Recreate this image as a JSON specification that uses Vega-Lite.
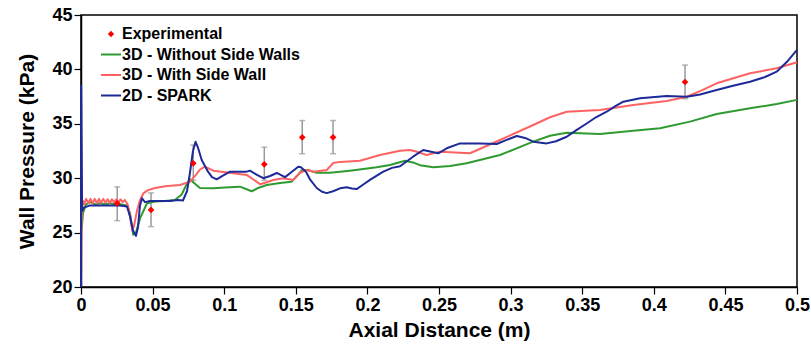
{
  "$schema": "https://vega.github.io/schema/vega-lite/v6.json",
  "width": 716,
  "height": 272,
  "autosize": {"type": "none"},
  "padding": {"left": 81, "top": 15, "right": 14, "bottom": 61},
  "background": "white",
  "config": {
    "view": {"stroke": "black", "strokeWidth": 1.5},
    "axis": {
      "grid": false,
      "domainColor": "black",
      "domainWidth": 1.5,
      "tickColor": "black",
      "tickWidth": 1.2,
      "tickSize": 7,
      "labelFont": "Liberation Sans",
      "labelFontWeight": "bold",
      "labelFontSize": 18,
      "labelColor": "black",
      "labelPadding": 2,
      "titleColor": "black",
      "titleFont": "Liberation Sans",
      "titleFontWeight": "bold"
    }
  },
  "datasets": {
    "curves": [
      {"x": 0.0004, "y": 25.2, "s": "3D - Without Side Walls"},
      {"x": 0.0014, "y": 26.8, "s": "3D - Without Side Walls"},
      {"x": 0.0035, "y": 27.6, "s": "3D - Without Side Walls"},
      {"x": 0.0063, "y": 27.8, "s": "3D - Without Side Walls"},
      {"x": 0.0100, "y": 27.6, "s": "3D - Without Side Walls"},
      {"x": 0.0133, "y": 27.7, "s": "3D - Without Side Walls"},
      {"x": 0.0170, "y": 27.6, "s": "3D - Without Side Walls"},
      {"x": 0.0203, "y": 27.7, "s": "3D - Without Side Walls"},
      {"x": 0.0240, "y": 27.6, "s": "3D - Without Side Walls"},
      {"x": 0.0272, "y": 27.6, "s": "3D - Without Side Walls"},
      {"x": 0.0321, "y": 27.5, "s": "3D - Without Side Walls"},
      {"x": 0.0342, "y": 26.8, "s": "3D - Without Side Walls"},
      {"x": 0.0365, "y": 24.8, "s": "3D - Without Side Walls"},
      {"x": 0.0384, "y": 25.0, "s": "3D - Without Side Walls"},
      {"x": 0.0412, "y": 26.3, "s": "3D - Without Side Walls"},
      {"x": 0.0461, "y": 27.7, "s": "3D - Without Side Walls"},
      {"x": 0.0517, "y": 27.85, "s": "3D - Without Side Walls"},
      {"x": 0.0587, "y": 27.9, "s": "3D - Without Side Walls"},
      {"x": 0.0656, "y": 28.0, "s": "3D - Without Side Walls"},
      {"x": 0.0703, "y": 28.5, "s": "3D - Without Side Walls"},
      {"x": 0.0733, "y": 29.3, "s": "3D - Without Side Walls"},
      {"x": 0.0761, "y": 29.9, "s": "3D - Without Side Walls"},
      {"x": 0.0796, "y": 29.5, "s": "3D - Without Side Walls"},
      {"x": 0.0831, "y": 29.1, "s": "3D - Without Side Walls"},
      {"x": 0.0924, "y": 29.07, "s": "3D - Without Side Walls"},
      {"x": 0.1006, "y": 29.15, "s": "3D - Without Side Walls"},
      {"x": 0.1110, "y": 29.22, "s": "3D - Without Side Walls"},
      {"x": 0.1192, "y": 28.8, "s": "3D - Without Side Walls"},
      {"x": 0.1236, "y": 29.1, "s": "3D - Without Side Walls"},
      {"x": 0.1297, "y": 29.38, "s": "3D - Without Side Walls"},
      {"x": 0.1390, "y": 29.55, "s": "3D - Without Side Walls"},
      {"x": 0.1471, "y": 29.68, "s": "3D - Without Side Walls"},
      {"x": 0.1508, "y": 30.2, "s": "3D - Without Side Walls"},
      {"x": 0.1543, "y": 30.75, "s": "3D - Without Side Walls"},
      {"x": 0.1585, "y": 30.75, "s": "3D - Without Side Walls"},
      {"x": 0.1646, "y": 30.5, "s": "3D - Without Side Walls"},
      {"x": 0.1739, "y": 30.5, "s": "3D - Without Side Walls"},
      {"x": 0.1878, "y": 30.69, "s": "3D - Without Side Walls"},
      {"x": 0.2065, "y": 31.0, "s": "3D - Without Side Walls"},
      {"x": 0.2158, "y": 31.21, "s": "3D - Without Side Walls"},
      {"x": 0.2263, "y": 31.6, "s": "3D - Without Side Walls"},
      {"x": 0.2318, "y": 31.45, "s": "3D - Without Side Walls"},
      {"x": 0.2367, "y": 31.2, "s": "3D - Without Side Walls"},
      {"x": 0.2460, "y": 31.0, "s": "3D - Without Side Walls"},
      {"x": 0.2577, "y": 31.12, "s": "3D - Without Side Walls"},
      {"x": 0.2693, "y": 31.37, "s": "3D - Without Side Walls"},
      {"x": 0.2926, "y": 32.13, "s": "3D - Without Side Walls"},
      {"x": 0.3158, "y": 33.36, "s": "3D - Without Side Walls"},
      {"x": 0.3275, "y": 33.9, "s": "3D - Without Side Walls"},
      {"x": 0.3392, "y": 34.18, "s": "3D - Without Side Walls"},
      {"x": 0.3624, "y": 34.06, "s": "3D - Without Side Walls"},
      {"x": 0.3857, "y": 34.37, "s": "3D - Without Side Walls"},
      {"x": 0.4043, "y": 34.59, "s": "3D - Without Side Walls"},
      {"x": 0.4253, "y": 35.2, "s": "3D - Without Side Walls"},
      {"x": 0.4439, "y": 35.9, "s": "3D - Without Side Walls"},
      {"x": 0.4672, "y": 36.42, "s": "3D - Without Side Walls"},
      {"x": 0.4858, "y": 36.82, "s": "3D - Without Side Walls"},
      {"x": 0.5000, "y": 37.2, "s": "3D - Without Side Walls"},

      {"x": 0.0, "y": 20.0, "s": "3D - With Side Wall"},
      {"x": 0.0005, "y": 27.0, "s": "3D - With Side Wall"},
      {"x": 0.0014, "y": 27.9, "s": "3D - With Side Wall"},
      {"x": 0.0021, "y": 27.6, "s": "3D - With Side Wall"},
      {"x": 0.0036, "y": 28.1, "s": "3D - With Side Wall"},
      {"x": 0.0051, "y": 27.7, "s": "3D - With Side Wall"},
      {"x": 0.0066, "y": 28.1, "s": "3D - With Side Wall"},
      {"x": 0.0081, "y": 27.7, "s": "3D - With Side Wall"},
      {"x": 0.0096, "y": 28.1, "s": "3D - With Side Wall"},
      {"x": 0.0111, "y": 27.7, "s": "3D - With Side Wall"},
      {"x": 0.0126, "y": 28.1, "s": "3D - With Side Wall"},
      {"x": 0.0141, "y": 27.75, "s": "3D - With Side Wall"},
      {"x": 0.0156, "y": 28.1, "s": "3D - With Side Wall"},
      {"x": 0.0171, "y": 27.75, "s": "3D - With Side Wall"},
      {"x": 0.0186, "y": 28.05, "s": "3D - With Side Wall"},
      {"x": 0.0201, "y": 27.75, "s": "3D - With Side Wall"},
      {"x": 0.0216, "y": 28.05, "s": "3D - With Side Wall"},
      {"x": 0.0231, "y": 27.8, "s": "3D - With Side Wall"},
      {"x": 0.0246, "y": 28.05, "s": "3D - With Side Wall"},
      {"x": 0.0261, "y": 27.8, "s": "3D - With Side Wall"},
      {"x": 0.0276, "y": 28.05, "s": "3D - With Side Wall"},
      {"x": 0.0291, "y": 27.8, "s": "3D - With Side Wall"},
      {"x": 0.0306, "y": 28.0, "s": "3D - With Side Wall"},
      {"x": 0.0321, "y": 27.7, "s": "3D - With Side Wall"},
      {"x": 0.0328, "y": 27.5, "s": "3D - With Side Wall"},
      {"x": 0.0342, "y": 26.5, "s": "3D - With Side Wall"},
      {"x": 0.0358, "y": 25.2, "s": "3D - With Side Wall"},
      {"x": 0.0370, "y": 25.6, "s": "3D - With Side Wall"},
      {"x": 0.0391, "y": 27.0, "s": "3D - With Side Wall"},
      {"x": 0.0412, "y": 28.0, "s": "3D - With Side Wall"},
      {"x": 0.0435, "y": 28.6, "s": "3D - With Side Wall"},
      {"x": 0.0468, "y": 28.9, "s": "3D - With Side Wall"},
      {"x": 0.0517, "y": 29.1, "s": "3D - With Side Wall"},
      {"x": 0.0587, "y": 29.25, "s": "3D - With Side Wall"},
      {"x": 0.0691, "y": 29.38, "s": "3D - With Side Wall"},
      {"x": 0.0761, "y": 29.68, "s": "3D - With Side Wall"},
      {"x": 0.0803, "y": 30.3, "s": "3D - With Side Wall"},
      {"x": 0.0831, "y": 30.8, "s": "3D - With Side Wall"},
      {"x": 0.0866, "y": 31.06, "s": "3D - With Side Wall"},
      {"x": 0.0924, "y": 30.69, "s": "3D - With Side Wall"},
      {"x": 0.1064, "y": 30.45, "s": "3D - With Side Wall"},
      {"x": 0.1157, "y": 30.3, "s": "3D - With Side Wall"},
      {"x": 0.1201, "y": 29.9, "s": "3D - With Side Wall"},
      {"x": 0.1250, "y": 29.45, "s": "3D - With Side Wall"},
      {"x": 0.1292, "y": 29.6, "s": "3D - With Side Wall"},
      {"x": 0.1343, "y": 29.84, "s": "3D - With Side Wall"},
      {"x": 0.1413, "y": 29.99, "s": "3D - With Side Wall"},
      {"x": 0.1483, "y": 29.84, "s": "3D - With Side Wall"},
      {"x": 0.1529, "y": 30.5, "s": "3D - With Side Wall"},
      {"x": 0.1576, "y": 30.75, "s": "3D - With Side Wall"},
      {"x": 0.1622, "y": 30.6, "s": "3D - With Side Wall"},
      {"x": 0.1716, "y": 30.75, "s": "3D - With Side Wall"},
      {"x": 0.1762, "y": 31.4, "s": "3D - With Side Wall"},
      {"x": 0.1809, "y": 31.5, "s": "3D - With Side Wall"},
      {"x": 0.1948, "y": 31.6, "s": "3D - With Side Wall"},
      {"x": 0.2088, "y": 32.13, "s": "3D - With Side Wall"},
      {"x": 0.2228, "y": 32.53, "s": "3D - With Side Wall"},
      {"x": 0.2297, "y": 32.59, "s": "3D - With Side Wall"},
      {"x": 0.2353, "y": 32.4, "s": "3D - With Side Wall"},
      {"x": 0.2414, "y": 32.13, "s": "3D - With Side Wall"},
      {"x": 0.2507, "y": 32.44, "s": "3D - With Side Wall"},
      {"x": 0.2716, "y": 32.29, "s": "3D - With Side Wall"},
      {"x": 0.2926, "y": 33.51, "s": "3D - With Side Wall"},
      {"x": 0.3158, "y": 34.89, "s": "3D - With Side Wall"},
      {"x": 0.3275, "y": 35.6, "s": "3D - With Side Wall"},
      {"x": 0.3392, "y": 36.11, "s": "3D - With Side Wall"},
      {"x": 0.3624, "y": 36.27, "s": "3D - With Side Wall"},
      {"x": 0.3857, "y": 36.73, "s": "3D - With Side Wall"},
      {"x": 0.4090, "y": 37.1, "s": "3D - With Side Wall"},
      {"x": 0.4230, "y": 37.49, "s": "3D - With Side Wall"},
      {"x": 0.4323, "y": 38.0, "s": "3D - With Side Wall"},
      {"x": 0.4439, "y": 38.72, "s": "3D - With Side Wall"},
      {"x": 0.4672, "y": 39.64, "s": "3D - With Side Wall"},
      {"x": 0.4858, "y": 40.1, "s": "3D - With Side Wall"},
      {"x": 0.5000, "y": 40.65, "s": "3D - With Side Wall"},

      {"x": 0.0, "y": 20.0, "s": "2D - SPARK"},
      {"x": 0.0001, "y": 38.5, "s": "2D - SPARK"},
      {"x": 0.0008, "y": 27.0, "s": "2D - SPARK"},
      {"x": 0.0021, "y": 27.3, "s": "2D - SPARK"},
      {"x": 0.0063, "y": 27.5, "s": "2D - SPARK"},
      {"x": 0.0133, "y": 27.5, "s": "2D - SPARK"},
      {"x": 0.0203, "y": 27.5, "s": "2D - SPARK"},
      {"x": 0.0272, "y": 27.5, "s": "2D - SPARK"},
      {"x": 0.0321, "y": 27.4, "s": "2D - SPARK"},
      {"x": 0.0342, "y": 26.5, "s": "2D - SPARK"},
      {"x": 0.0363, "y": 25.2, "s": "2D - SPARK"},
      {"x": 0.0384, "y": 24.7, "s": "2D - SPARK"},
      {"x": 0.0398, "y": 25.5, "s": "2D - SPARK"},
      {"x": 0.0412, "y": 27.5, "s": "2D - SPARK"},
      {"x": 0.0426, "y": 28.15, "s": "2D - SPARK"},
      {"x": 0.0447, "y": 27.8, "s": "2D - SPARK"},
      {"x": 0.0482, "y": 27.9, "s": "2D - SPARK"},
      {"x": 0.0552, "y": 27.9, "s": "2D - SPARK"},
      {"x": 0.0622, "y": 27.9, "s": "2D - SPARK"},
      {"x": 0.0677, "y": 28.0, "s": "2D - SPARK"},
      {"x": 0.0712, "y": 27.95, "s": "2D - SPARK"},
      {"x": 0.0740, "y": 28.8, "s": "2D - SPARK"},
      {"x": 0.0761, "y": 30.5, "s": "2D - SPARK"},
      {"x": 0.0782, "y": 32.5, "s": "2D - SPARK"},
      {"x": 0.0800, "y": 33.35, "s": "2D - SPARK"},
      {"x": 0.0817, "y": 32.8, "s": "2D - SPARK"},
      {"x": 0.0843, "y": 31.67, "s": "2D - SPARK"},
      {"x": 0.0887, "y": 30.6, "s": "2D - SPARK"},
      {"x": 0.0915, "y": 30.1, "s": "2D - SPARK"},
      {"x": 0.0948, "y": 29.9, "s": "2D - SPARK"},
      {"x": 0.0985, "y": 30.2, "s": "2D - SPARK"},
      {"x": 0.1041, "y": 30.6, "s": "2D - SPARK"},
      {"x": 0.1157, "y": 30.6, "s": "2D - SPARK"},
      {"x": 0.1180, "y": 30.7, "s": "2D - SPARK"},
      {"x": 0.1229, "y": 30.3, "s": "2D - SPARK"},
      {"x": 0.1273, "y": 30.0, "s": "2D - SPARK"},
      {"x": 0.1320, "y": 30.2, "s": "2D - SPARK"},
      {"x": 0.1367, "y": 30.48, "s": "2D - SPARK"},
      {"x": 0.1425, "y": 30.1, "s": "2D - SPARK"},
      {"x": 0.1473, "y": 30.6, "s": "2D - SPARK"},
      {"x": 0.1517, "y": 31.06, "s": "2D - SPARK"},
      {"x": 0.1536, "y": 31.0, "s": "2D - SPARK"},
      {"x": 0.1571, "y": 30.6, "s": "2D - SPARK"},
      {"x": 0.1599, "y": 29.9, "s": "2D - SPARK"},
      {"x": 0.1646, "y": 29.1, "s": "2D - SPARK"},
      {"x": 0.1683, "y": 28.75, "s": "2D - SPARK"},
      {"x": 0.1716, "y": 28.63, "s": "2D - SPARK"},
      {"x": 0.1760, "y": 28.8, "s": "2D - SPARK"},
      {"x": 0.1809, "y": 29.07, "s": "2D - SPARK"},
      {"x": 0.1855, "y": 29.16, "s": "2D - SPARK"},
      {"x": 0.1892, "y": 29.05, "s": "2D - SPARK"},
      {"x": 0.1925, "y": 29.0, "s": "2D - SPARK"},
      {"x": 0.1969, "y": 29.4, "s": "2D - SPARK"},
      {"x": 0.2018, "y": 29.84, "s": "2D - SPARK"},
      {"x": 0.2111, "y": 30.6, "s": "2D - SPARK"},
      {"x": 0.2172, "y": 30.95, "s": "2D - SPARK"},
      {"x": 0.2228, "y": 31.1, "s": "2D - SPARK"},
      {"x": 0.2321, "y": 32.0, "s": "2D - SPARK"},
      {"x": 0.2390, "y": 32.59, "s": "2D - SPARK"},
      {"x": 0.2437, "y": 32.45, "s": "2D - SPARK"},
      {"x": 0.2495, "y": 32.29, "s": "2D - SPARK"},
      {"x": 0.2563, "y": 32.8, "s": "2D - SPARK"},
      {"x": 0.2647, "y": 33.2, "s": "2D - SPARK"},
      {"x": 0.2786, "y": 33.2, "s": "2D - SPARK"},
      {"x": 0.2903, "y": 33.14, "s": "2D - SPARK"},
      {"x": 0.2968, "y": 33.5, "s": "2D - SPARK"},
      {"x": 0.3043, "y": 33.88, "s": "2D - SPARK"},
      {"x": 0.3101, "y": 33.7, "s": "2D - SPARK"},
      {"x": 0.3158, "y": 33.36, "s": "2D - SPARK"},
      {"x": 0.3252, "y": 33.2, "s": "2D - SPARK"},
      {"x": 0.3317, "y": 33.4, "s": "2D - SPARK"},
      {"x": 0.3392, "y": 33.81, "s": "2D - SPARK"},
      {"x": 0.3457, "y": 34.4, "s": "2D - SPARK"},
      {"x": 0.3531, "y": 35.03, "s": "2D - SPARK"},
      {"x": 0.3596, "y": 35.6, "s": "2D - SPARK"},
      {"x": 0.3671, "y": 36.11, "s": "2D - SPARK"},
      {"x": 0.3729, "y": 36.6, "s": "2D - SPARK"},
      {"x": 0.3787, "y": 37.03, "s": "2D - SPARK"},
      {"x": 0.3904, "y": 37.34, "s": "2D - SPARK"},
      {"x": 0.4090, "y": 37.55, "s": "2D - SPARK"},
      {"x": 0.4230, "y": 37.49, "s": "2D - SPARK"},
      {"x": 0.4323, "y": 37.7, "s": "2D - SPARK"},
      {"x": 0.4439, "y": 38.11, "s": "2D - SPARK"},
      {"x": 0.4553, "y": 38.5, "s": "2D - SPARK"},
      {"x": 0.4672, "y": 38.87, "s": "2D - SPARK"},
      {"x": 0.4777, "y": 39.3, "s": "2D - SPARK"},
      {"x": 0.4858, "y": 39.79, "s": "2D - SPARK"},
      {"x": 0.4930, "y": 40.7, "s": "2D - SPARK"},
      {"x": 0.5000, "y": 41.8, "s": "2D - SPARK"}
    ],
    "exp": [
      {"x": 0.0253, "y": 27.69, "lo": 26.1, "hi": 29.2, "s": "Experimental"},
      {"x": 0.0489, "y": 27.08, "lo": 25.55, "hi": 28.65, "s": "Experimental"},
      {"x": 0.0784, "y": 31.37, "lo": 29.8, "hi": 33.05, "s": "Experimental"},
      {"x": 0.128, "y": 31.28, "lo": 29.8, "hi": 32.85, "s": "Experimental"},
      {"x": 0.1545, "y": 33.76, "lo": 32.25, "hi": 35.3, "s": "Experimental"},
      {"x": 0.176, "y": 33.76, "lo": 32.25, "hi": 35.3, "s": "Experimental"},
      {"x": 0.4218, "y": 38.84, "lo": 37.3, "hi": 40.4, "s": "Experimental"}
    ]
  },
  "encoding": {
    "x": {
      "field": "x",
      "type": "quantitative",
      "scale": {"domain": [0, 0.5], "nice": false, "zero": false},
      "axis": {
        "title": "Axial Distance (m)",
        "values": [0, 0.05, 0.1, 0.15, 0.2, 0.25, 0.3, 0.35, 0.4, 0.45, 0.5],
        "format": "~g",
        "titleFontSize": 21,
        "titlePadding": 5,
        "labelFlush": false
      }
    },
    "y": {
      "field": "y",
      "type": "quantitative",
      "scale": {"domain": [20, 45], "nice": false, "zero": false},
      "axis": {
        "title": "Wall Pressure (kPa)",
        "values": [20, 25, 30, 35, 40, 45],
        "titleFontSize": 21,
        "titlePadding": 14,
        "labelFlush": false
      }
    }
  },
  "layer": [
    {
      "data": {"name": "exp"},
      "mark": {"type": "rule", "color": "#999999", "strokeWidth": 1.5},
      "encoding": {"y": {"field": "lo", "type": "quantitative"}, "y2": {"field": "hi"}}
    },
    {
      "data": {"name": "exp"},
      "mark": {"type": "tick", "orient": "horizontal", "color": "#999999", "size": 6, "thickness": 1.5},
      "encoding": {"y": {"field": "lo", "type": "quantitative"}}
    },
    {
      "data": {"name": "exp"},
      "mark": {"type": "tick", "orient": "horizontal", "color": "#999999", "size": 6, "thickness": 1.5},
      "encoding": {"y": {"field": "hi", "type": "quantitative"}}
    },
    {
      "data": {"name": "curves"},
      "mark": {"type": "line", "strokeWidth": 2, "strokeJoin": "round"},
      "encoding": {
        "color": {
          "field": "s",
          "type": "nominal",
          "sort": null,
          "scale": {
            "domain": ["Experimental", "3D - Without Side Walls", "3D - With Side Wall", "2D - SPARK"],
            "range": ["#ff0000", "#2f9a2f", "#ff6262", "#1e2a98"]
          },
          "legend": {
            "orient": "none",
            "legendX": 22,
            "legendY": 11,
            "title": null,
            "labelFont": "Liberation Sans",
            "labelFontWeight": "bold",
            "labelFontSize": 16,
            "labelColor": "black",
            "labelLimit": 0,
            "labelOffset": 3,
            "rowPadding": 4.5,
            "symbolSize": 400,
            "symbolType": "stroke",
            "symbolStrokeWidth": 2,
            "encode": {
              "symbols": {
                "update": {
                  "shape": {"signal": "datum.value === 'Experimental' ? 'diamond' : 'stroke'"},
                  "size": {"signal": "datum.value === 'Experimental' ? 40 : 400"},
                  "fill": {"signal": "datum.value === 'Experimental' ? '#ff0000' : 'transparent'"},
                  "stroke": {"scale": "color", "field": "value"},
                  "strokeWidth": {"signal": "datum.value === 'Experimental' ? 0 : 2"}
                }
              }
            }
          }
        },
        "strokeWidth": {
          "field": "s",
          "type": "nominal",
          "scale": {
            "domain": ["3D - Without Side Walls", "3D - With Side Wall", "2D - SPARK"],
            "range": [2, 1.5, 2.2]
          },
          "legend": null
        }
      }
    },
    {
      "data": {"name": "exp"},
      "mark": {"type": "point", "shape": "diamond", "filled": true, "size": 45, "opacity": 1},
      "encoding": {"color": {"field": "s", "type": "nominal"}}
    }
  ]
}
